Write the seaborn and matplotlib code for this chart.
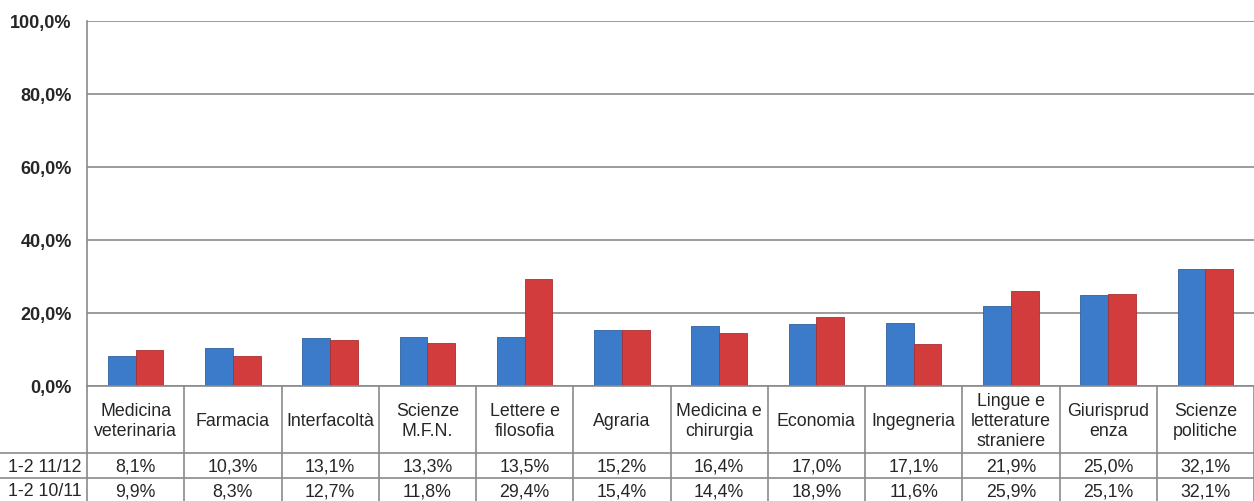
import matplotlib
matplotlib.use("Agg")
import matplotlib.pyplot as plt
import matplotlib.transforms as mtrans
from matplotlib.lines import Line2D
import seaborn as sns
import pandas as pd

categories = ["Medicina\nveterinaria", "Farmacia", "Interfacoltà", "Scienze\nM.F.N.",
              "Lettere e\nfilosofia", "Agraria", "Medicina e\nchirurgia", "Economia",
              "Ingegneria", "Lingue e\nletterature\nstraniere", "Giurisprud\nenza",
              "Scienze\npolitiche"]
series_names = ["1-2 11/12", "1-2 10/11"]
values_1112 = [8.1, 10.3, 13.1, 13.3, 13.5, 15.2, 16.4, 17.0, 17.1, 21.9, 25.0, 32.1]
values_1011 = [9.9, 8.3, 12.7, 11.8, 29.4, 15.4, 14.4, 18.9, 11.6, 25.9, 25.1, 32.1]
yticks = [0, 20, 40, 60, 80, 100]
ytick_labels = ["0,0%", "20,0%", "40,0%", "60,0%", "80,0%", "100,0%"]

def fmt(v):
    return f"{v:.1f}%".replace(".", ",")

df = pd.DataFrame({
    "cat": categories * 2,
    "val": values_1112 + values_1011,
    "series": [series_names[0]] * len(categories) + [series_names[1]] * len(categories),
})

sns.set_style("white")
plt.rcParams["font.family"] = ["Liberation Sans", "DejaVu Sans"]

W, H = 1254, 502
fig = plt.figure(figsize=(W / 100, H / 100), dpi=100)
ax_left, ax_right, ax_bot, ax_top = 87, 1254, 387, 21.5
ax = fig.add_axes([ax_left / W, (H - ax_bot) / H, (ax_right - ax_left) / W, (ax_bot - ax_top) / H])

blue = "#3b7bca"
red = "#d33c3c"
sns.barplot(data=df, x="cat", y="val", hue="series", palette=[blue, red],
            width=0.57, gap=0, ax=ax, legend=False, saturation=1,
            edgecolor="none", linewidth=0)

# subtle darker outline to hint the bevelled look
for p, col in zip(ax.patches, [blue] * len(categories) + [red] * len(categories)):
    p.set_edgecolor("#2f629f" if col == blue else "#a83030")
    p.set_linewidth(0.6)

grid_c = "#8a8a8a"
ax.set_ylim(0, 100)
ax.set_xlim(-0.5, len(categories) - 0.5)
ax.set_yticks(yticks)
ax.set_yticklabels(ytick_labels, fontsize=13, fontweight="bold")
ax.tick_params(axis="y", length=0, pad=11)
ax.set_xticks([])
ax.set_xlabel("")
ax.set_ylabel("")
ax.yaxis.grid(True, color=grid_c, linewidth=1.2)
ax.set_axisbelow(True)
for s in ["top", "right"]:
    ax.spines[s].set_visible(False)
for s in ["left", "bottom"]:
    ax.spines[s].set_color(grid_c)
    ax.spines[s].set_linewidth(1.2)

# data table below the axes
def fy(py):
    return (H - py) / H

def fx(px):
    return px / W

col_w = (ax_right - ax_left) / len(categories)
row1_top, row2_top, bottom = 454, 479, 503
for k in range(len(categories) + 1):
    x = ax_left + k * col_w
    fig.add_artist(Line2D([fx(x), fx(x)], [fy(ax_bot), fy(bottom)], color=grid_c, lw=1.2))
for y in [row1_top, row2_top]:
    fig.add_artist(Line2D([0, 1], [fy(y), fy(y)], color=grid_c, lw=1.2))

trans = mtrans.blended_transform_factory(ax.transData, fig.transFigure)
fs = 12.8
for i, c in enumerate(categories):
    ax.text(i, fy((ax_bot + row1_top) / 2 + 1), c, transform=trans, ha="center", va="center",
            fontsize=fs, linespacing=1.22, clip_on=False)
    ax.text(i, fy((row1_top + row2_top) / 2 + 1), fmt(values_1112[i]), transform=trans,
            ha="center", va="center", fontsize=fs, clip_on=False)
    ax.text(i, fy((row2_top + bottom) / 2 + 1), fmt(values_1011[i]), transform=trans,
            ha="center", va="center", fontsize=fs, clip_on=False)

fig.text(fx(82), fy((row1_top + row2_top) / 2 + 1), series_names[0], ha="right", va="center", fontsize=fs)
fig.text(fx(82), fy((row2_top + bottom) / 2 + 1), series_names[1], ha="right", va="center", fontsize=fs)

fig.savefig("out.png", dpi=100)
